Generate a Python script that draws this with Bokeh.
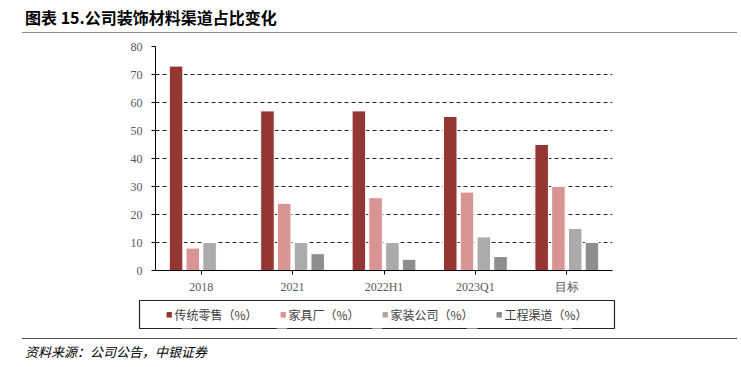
from bokeh.plotting import figure
from bokeh.models import (ColumnDataSource, FactorRange, Legend, LegendItem, Div,
                          FixedTicker, Range1d)
from bokeh.layouts import column
from bokeh.transform import dodge
from bokeh.embed import file_html
from bokeh.resources import INLINE

categories = ["2018", "2021", "2022H1", "2023Q1", "目标"]
retail = [73, 57, 57, 55, 45]
furniture = [8, 24, 26, 28, 30]
decoration = [10, 10, 10, 12, 15]
engineering = [0, 6, 4, 5, 10]
series_names = ["传统零售（%）", "家具厂（%）", "家装公司（%）", "工程渠道（%）"]
y_ticks = [0, 10, 20, 30, 40, 50, 60, 70, 80]

colors = ["#943634", "#D99594", "#ABABAB", "#8E8E8E"]

src = ColumnDataSource(dict(cat=categories, s0=retail, s1=furniture,
                            s2=decoration, s3=engineering))

cjk = "Noto Sans CJK SC"
serif = "Liberation Serif"

title = Div(text=('<div style="margin-left:22px;width:715px;padding-left:3px;'
                  'padding-top:9px;padding-bottom:7px;border-bottom:1.5px solid #8c8c8c;'
                  'font-family:\'Noto Sans CJK SC\';font-weight:bold;font-size:16px;'
                  'line-height:16px;color:#000;">图表 15.公司装饰材料渠道占比变化</div>'),
            width=741, height=34, margin=0)

p = figure(x_range=FactorRange(*categories, range_padding=0),
           y_range=Range1d(0, 80), width=725, height=262,
           output_backend="svg", toolbar_location=None,
           min_border_left=155, min_border_right=113,
           min_border_top=12, min_border_bottom=26)
p.frame_align = False
p.outline_line_color = None
p.background_fill_color = "white"
p.border_fill_color = "white"

offsets = [-0.275, -0.092, 0.092, 0.275]
for i, off in enumerate(offsets):
    p.vbar(x=dodge("cat", off, range=p.x_range), top=f"s{i}", width=0.148,
           source=src, fill_color=colors[i], line_color="white", line_width=1)

p.xgrid.grid_line_color = None
p.ygrid.grid_line_color = "#222222"
p.ygrid.grid_line_dash = "4 3"
p.ygrid.grid_line_width = 1
p.yaxis.ticker = FixedTicker(ticks=y_ticks)

for ax in (p.xaxis, p.yaxis):
    ax.axis_line_color = "#000000"
    ax.axis_line_width = 1
    ax.major_tick_line_color = "#000000"
    ax.major_tick_out = 4
    ax.major_tick_in = 0
    ax.minor_tick_line_color = None
    ax.major_label_text_font_size = "12px"
    ax.major_label_text_color = "#595959"

p.yaxis.major_label_text_font = serif
p.yaxis.major_label_standoff = 9
p.xaxis.major_label_text_font = serif
p.xaxis.major_label_standoff = 5

# legend in its own strip; the strip's frame outline is the legend box
# (the series glyphs here lie outside its y range, only the legend shows)
pl = figure(width=725, height=40, x_range=FactorRange(*categories, range_padding=0),
            y_range=Range1d(100, 200),
            output_backend="svg", toolbar_location=None,
            x_axis_type=None, y_axis_type=None,
            min_border_left=139, min_border_right=111, min_border_top=4, min_border_bottom=8)
pl.frame_align = False
pl.outline_line_color = "#222222"
pl.outline_line_width = 1.2
pl.xgrid.grid_line_color = None
pl.ygrid.grid_line_color = None
items = []
for i in range(4):
    r = pl.vbar(x="cat", top=f"s{i}", width=0.1, source=src,
                fill_color=colors[i], line_color=colors[i])
    items.append(LegendItem(label=series_names[i], renderers=[r], index=0))

legend = Legend(items=items, orientation="horizontal", location="center",
                glyph_width=6, glyph_height=6, label_standoff=3, spacing=22,
                padding=4, margin=0, label_height=14,
                label_text_font=cjk, label_text_font_size="12px",
                label_text_color="#404040",
                border_line_color=None, background_fill_alpha=0)
pl.add_layout(legend, "center")

source = Div(text=('<div style="margin-left:22px;width:715px;padding-left:3px;'
                   'margin-top:2px;padding-top:6px;border-top:1.5px solid #555555;'
                   'font-family:\'Noto Sans CJK SC\';font-style:italic;font-size:13px;'
                   'line-height:14px;color:#000;">资料来源：公司公告，中银证券</div>'),
             width=741, height=24, margin=0)

layout = column(title, p, pl, source, spacing=0)

open("out.html", "w").write(file_html(layout, INLINE))
